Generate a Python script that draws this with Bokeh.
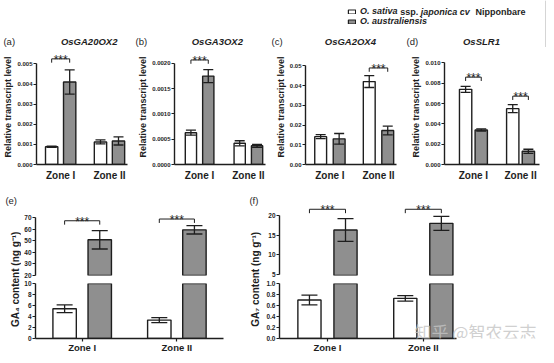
import numpy as np
from bokeh.plotting import figure
from bokeh.models import (Range1d, FixedTicker, PrintfTickFormatter, Whisker, TeeHead,
                          ColumnDataSource, Label, Legend, LegendItem)
from bokeh.layouts import column, row
from bokeh.embed import file_html
from bokeh.resources import INLINE
from bokeh.core.properties import value

FONT = "Liberation Sans"
INK = "#1e1e1e"
GREY = "#8f8f8f"
WHITE = "#ffffff"

# ---------------- data ----------------
zones = ["Zone I", "Zone II"]
genes = ["OsGA20OX2", "OsGA3OX2", "OsGA2OX4", "OsSLR1"]
panel_tags = ["(a)", "(b)", "(c)", "(d)", "(e)", "(f)"]
legend_row1 = [("O. sativa", "bold italic"), ("ssp.", "bold"),
               ("japonica cv", "bold italic"), ("Nipponbare", "bold")]
legend_row2 = [("O. australiensis", "bold italic")]
ylabel_top = "Relative transcript level"
ylabel_ga4 = "GA\u2084 content (ng g\u207b\u00b9)"
ylabel_ga7 = "GA\u2087 content (ng g\u207b\u00b9)"
watermark = "知乎 @智农云志"

ga20ox2_nip = [0.00088, 0.00112]
ga20ox2_nip_err = [0.00003, 0.00010]
ga20ox2_aus = [0.00410, 0.00117]
ga20ox2_aus_err = [0.00060, 0.00020]

ga3ox2_nip = [0.00063, 0.00042]
ga3ox2_nip_err = [0.00005, 0.00005]
ga3ox2_aus = [0.00175, 0.00037]
ga3ox2_aus_err = [0.00013, 0.00003]

ga2ox4_nip = [0.0141, 0.0420]
ga2ox4_nip_err = [0.0010, 0.0030]
ga2ox4_aus = [0.0130, 0.0172]
ga2ox4_aus_err = [0.0027, 0.0022]

slr1_nip = [0.0074, 0.0055]
slr1_nip_err = [0.0003, 0.0004]
slr1_aus = [0.0034, 0.0013]
slr1_aus_err = [0.0001, 0.0002]

ga4_nip = [5.4, 3.35]
ga4_nip_err = [0.7, 0.45]
ga4_aus = [51.0, 59.6]
ga4_aus_err = [8.0, 3.6]

ga7_nip = [0.70, 0.73]
ga7_nip_err = [0.09, 0.05]
ga7_aus = [16.4, 18.1]
ga7_aus_err = [2.9, 1.8]

ga20ox2_sig = ["***", ""]
ga3ox2_sig = ["***", ""]
ga2ox4_sig = ["", "***"]
slr1_sig = ["***", "***"]
ga4_sig = ["***", "***"]
ga7_sig = ["***", "***"]

ga20ox2_ticks = [0.000, 0.001, 0.002, 0.003, 0.004, 0.005]
ga3ox2_ticks = [0.0, 0.0005, 0.0010, 0.0015, 0.0020]
ga2ox4_ticks = [0.00, 0.01, 0.02, 0.03, 0.04, 0.05]
slr1_ticks = [0.000, 0.002, 0.004, 0.006, 0.008, 0.010]
ga4_ticks_low = [0, 2, 4, 6, 8, 10]
ga4_ticks_high = [20, 30, 40, 50, 60, 70]
ga7_ticks_low = [0.0, 0.2, 0.4, 0.6, 0.8, 1.0]
ga7_ticks_high = [5, 10, 15, 20]

# ---------------- layout (reference pixel geometry, scaled to fit) ----------------
REF_W, REF_H = 554, 363
OUT_W, OUT_H = 546, 355
SXF, SYF = OUT_W / REF_W, OUT_H / REF_H
SIG_FONT = "12px"


def sx(v):
    return int(round(v * SXF))


def sy(v):
    return int(round(v * SYF))


def base_fig(fig_lr, frame_lr, fig_tb, frame_tb, xr, yr, x_axis=True, y_axis=True):
    w = sx(fig_lr[1]) - sx(fig_lr[0])
    h = sy(fig_tb[1]) - sy(fig_tb[0])
    p = figure(width=w, height=h, x_range=Range1d(*xr), y_range=Range1d(*yr),
               output_backend="svg", toolbar_location=None,
               x_axis_location="below" if x_axis else None,
               y_axis_location="left" if y_axis else None,
               min_border_left=sx(frame_lr[0]) - sx(fig_lr[0]),
               min_border_right=sx(fig_lr[1]) - sx(frame_lr[1]),
               min_border_top=sy(frame_tb[0]) - sy(fig_tb[0]),
               min_border_bottom=sy(fig_tb[1]) - sy(frame_tb[1]))
    p.outline_line_color = None
    p.xgrid.visible = False
    p.ygrid.visible = False
    return p


def blank_fig(fig_lr, fig_tb):
    p = figure(width=sx(fig_lr[1]) - sx(fig_lr[0]), height=sy(fig_tb[1]) - sy(fig_tb[0]),
               x_range=Range1d(0, 1), y_range=Range1d(0, 1),
               output_backend="svg", toolbar_location=None,
               x_axis_location=None, y_axis_location=None, min_border=0)
    p.outline_line_color = None
    p.xgrid.visible = False
    p.ygrid.visible = False
    return p


def style_axis(ax, size, tick_out=3, standoff=2):
    ax.axis_line_color = INK
    ax.axis_line_width = 1.4
    ax.major_tick_line_color = INK
    ax.major_tick_line_width = 1.2
    ax.major_tick_in = 0
    ax.major_tick_out = tick_out
    ax.minor_tick_line_color = None
    ax.major_label_text_font = FONT
    ax.major_label_text_font_style = "bold"
    ax.major_label_text_font_size = size
    ax.major_label_text_color = INK
    ax.major_label_standoff = standoff


def zone_axis(p, size, tick_out, standoff, bounds=None):
    ax = p.xaxis[0]
    ax.ticker = FixedTicker(ticks=list(range(len(zones))))
    ax.major_label_overrides = {i: z for i, z in enumerate(zones)}
    if bounds is not None:
        ax.bounds = bounds
    style_axis(ax, size, tick_out, standoff)


def value_axis(p, ticks, fmt, size):
    ax = p.yaxis[0]
    ax.ticker = FixedTicker(ticks=ticks)
    ax.formatter = PrintfTickFormatter(format=fmt)
    ax.bounds = (ticks[0], ticks[-1])
    style_axis(ax, size, 3, 1)


def draw_bars(p, nip, nip_err, aus, aus_err, off, bw, head, lo=None, hi=None):
    x = np.arange(len(zones))
    xw, xg = x - off, x + off
    for xs, m, fill in ((xw, nip, WHITE), (xg, aus, GREY)):
        keep = [i for i, mi in enumerate(m) if lo is None or mi > lo]
        if keep:
            p.vbar(x=[xs[i] for i in keep], top=[m[i] for i in keep], width=bw, bottom=0,
                   fill_color=fill, line_color=INK, line_width=1.4)
    bx, up, dn = [], [], []
    for xs, m, e in ((xw, nip, nip_err), (xg, aus, aus_err)):
        for xi, mi, ei in zip(xs, m, e):
            if lo is not None and not (lo <= mi <= hi):
                continue
            bx.append(xi); up.append(mi + ei); dn.append(mi - ei)
    src = ColumnDataSource(dict(x=bx, upper=up, lower=dn))
    w = Whisker(source=src, base="x", upper="upper", lower="lower", level="annotation",
                line_color=INK, line_width=1.3,
                upper_head=TeeHead(size=head, line_color=INK, line_width=1.3),
                lower_head=TeeHead(size=head, line_color=INK, line_width=1.3))
    p.add_layout(w)


def draw_sig(p, sig, br_y, off, drop, size):
    xs, ys, tx, ty, tt = [], [], [], [], []
    for i, (s, y) in enumerate(zip(sig, br_y)):
        if not s:
            continue
        x0, x1 = i - off, i + off
        xs.append([x0, x0, x1, x1])
        ys.append([y - drop, y, y, y - drop])
        tx.append(float(i)); ty.append(y); tt.append(s)
    p.multi_line(xs=xs, ys=ys, line_color=INK, line_width=1)
    p.text(x=tx, y=ty, text=tt, text_align="center", text_baseline="alphabetic",
           y_offset=1, text_font=value(FONT), text_font_size=size, text_color=INK)


def add_label(p, text, x, y, size, style="normal", align="left", angle=0.0,
              font=FONT, color=INK, alpha=1.0):
    p.add_layout(Label(x=x, y=y, x_units="screen", y_units="screen", text=text,
                       text_font=font, text_font_size=size, text_font_style=style,
                       text_align=align, text_baseline="middle", angle=angle,
                       text_color=color, text_alpha=alpha))


def x_range_for(frame_lr, centers):
    unit = centers[1] - centers[0]
    return ((frame_lr[0] - centers[0]) / unit, (frame_lr[1] - centers[0]) / unit), unit


# ---------------- header: legend + panel titles ----------------
HEAD_TB = (0, 48)
head = blank_fig((0, REF_W), HEAD_TB)
HH = sy(HEAD_TB[1]) - sy(HEAD_TB[0])


def head_y(ref_y):
    return HH - ref_y * SYF


r_nip = head.vbar(x=[5], top=[1], width=0.1, fill_color=WHITE, line_color=INK, line_width=1.2)
r_aus = head.vbar(x=[5], top=[1], width=0.1, fill_color=GREY, line_color=INK, line_width=1.2)
LEG_FONT = "9px"
leg_rows_y = [11.5, 21.5]
for renderer, pieces, ry in ((r_nip, legend_row1, leg_rows_y[0]), (r_aus, legend_row2, leg_rows_y[1])):
    lg = Legend(items=[LegendItem(label=pieces[0][0], renderers=[renderer])],
                location=(sx(352), head_y(ry) - 5), glyph_width=9, glyph_height=5,
                label_standoff=4, label_height=5, padding=0, margin=0, spacing=0,
                border_line_color=None, background_fill_alpha=0,
                label_text_font=FONT, label_text_font_style=pieces[0][1],
                label_text_font_size=LEG_FONT, label_text_color=INK)
    head.add_layout(lg)
leg_piece_x = [365, 405.5, 426.5, 482]
for (txt, sty), lx in zip(legend_row1[1:], leg_piece_x[1:]):
    add_label(head, txt, lx * SXF, head_y(leg_rows_y[0]), LEG_FONT, sty)

tag_x = [3, 137, 275, 412]
title_cx = [90, 220, 355, 488]
for k in range(4):
    add_label(head, panel_tags[k], tag_x[k] * SXF, head_y(42), "9.5px")
    add_label(head, genes[k], title_cx[k] * SXF, head_y(42), "9.5px", "bold italic", "center")

# ---------------- row 1: transcript panels ----------------
row1_data = [
    (ga20ox2_nip, ga20ox2_nip_err, ga20ox2_aus, ga20ox2_aus_err, ga20ox2_sig, ga20ox2_ticks),
    (ga3ox2_nip, ga3ox2_nip_err, ga3ox2_aus, ga3ox2_aus_err, ga3ox2_sig, ga3ox2_ticks),
    (ga2ox4_nip, ga2ox4_nip_err, ga2ox4_aus, ga2ox4_aus_err, ga2ox4_sig, ga2ox4_ticks),
    (slr1_nip, slr1_nip_err, slr1_aus, slr1_aus_err, slr1_sig, slr1_ticks),
]
row1_layout = [
    dict(fig=(0, 137), frame=(33, 129), centers=(58.5, 110), off=9.5, bw=13,
         px0=170, pxt=65, br=[0.00525, None], fmt="%.3f"),
    dict(fig=(137, 276), frame=(172, 269), centers=(198.75, 250.75), off=9.25, bw=12,
         px0=169.7, pxt=64.3, br=[0.00207, None], fmt="%.4f"),
    dict(fig=(276, 414), frame=(306, 402), centers=(331.75, 383), off=9.75, bw=12.5,
         px0=170, pxt=67, br=[None, 0.0489], fmt="%.2f"),
    dict(fig=(414, REF_W), frame=(446.7, 547), centers=(477.25, 527), off=8.25, bw=13,
         px0=170, pxt=64, br=[0.0086, 0.00673], fmt="%.3f"),
]
ROW1_TB = (48, 187)
FRAME1_TB = (50, 170)
row1_figs = []
for (nip, nip_e, aus, aus_e, sig, ticks), L in zip(row1_data, row1_layout):
    xr, unit = x_range_for(L["frame"], L["centers"])
    per_px = (ticks[-1] - ticks[0]) / (L["px0"] - L["pxt"])
    y_end = (FRAME1_TB[1] - FRAME1_TB[0]) * per_px
    p = base_fig(L["fig"], L["frame"], ROW1_TB, FRAME1_TB, xr, (0, y_end))
    off, bw = L["off"] / unit, L["bw"] / unit
    draw_bars(p, nip, nip_e, aus, aus_e, off, bw, head=10)
    draw_sig(p, sig, L["br"], off, 4 * per_px, SIG_FONT)
    zone_axis(p, "10px", 0, 5)
    value_axis(p, ticks, L["fmt"], "6px")
    ax = p.yaxis[0]
    ax.axis_label = ylabel_top
    ax.axis_label_text_font = FONT
    ax.axis_label_text_font_style = "bold"
    ax.axis_label_text_font_size = "9px"
    ax.axis_label_text_color = INK
    ax.axis_label_standoff = 1
    row1_figs.append(p)

# ---------------- row 2: hormone contents with broken axes ----------------
row2_data = [
    (ga4_nip, ga4_nip_err, ga4_aus, ga4_aus_err, ga4_sig, ga4_ticks_low, ga4_ticks_high, ylabel_ga4),
    (ga7_nip, ga7_nip_err, ga7_aus, ga7_aus_err, ga7_sig, ga7_ticks_low, ga7_ticks_high, ylabel_ga7),
]
row2_layout = [
    dict(lab=(0, 21), tag_x=5, ylab_x=15.5, fig=(21, 250), frame=(34, 226.7), axis_end=226.7,
         centers=(81.85, 178.9), off=18, bw=24, hi_px=(281, 222), fmt_hi="%d", fmt_lo="%d",
         br=[67.5, 69.0], wm=False),
    dict(lab=(250, 266), tag_x=253, ylab_x=259, fig=(266, REF_W), frame=(283, 552), axis_end=463,
         centers=(331.7, 429), off=18.3, bw=23.5, hi_px=(280, 220), fmt_hi="%d", fmt_lo="%.1f",
         br=[21.7, 21.7], wm=True),
]
UP_TB, UP_FRAME = (187, 285), (195, 281)
LO_TB, LO_FRAME = (285, 363), (289, 348.5)
ROW2_TB = (187, 363)
row2_children = []
for k, ((nip, nip_e, aus, aus_e, sig, t_lo, t_hi, ylab), L) in enumerate(zip(row2_data, row2_layout)):
    lab = blank_fig(L["lab"], ROW2_TB)
    LH = sy(ROW2_TB[1]) - sy(ROW2_TB[0])
    add_label(lab, panel_tags[4 + k], (L["tag_x"] - L["lab"][0]) * SXF, LH - (204 - 187) * SYF, "9.5px")
    add_label(lab, ylab, (L["ylab_x"] - L["lab"][0]) * SXF, LH - (285 - 187) * SYF, "10px", "bold",
              "center", angle=np.pi / 2)

    xr, unit = x_range_for(L["frame"], L["centers"])
    off, bw = L["off"] / unit, L["bw"] / unit

    hp0, hp1 = L["hi_px"]
    per_px = (t_hi[-1] - t_hi[0]) / (hp0 - hp1)
    hi_start = t_hi[0] - (UP_FRAME[1] - hp0) * per_px
    hi_end = t_hi[0] + (hp0 - UP_FRAME[0]) * per_px
    up = base_fig(L["fig"], L["frame"], UP_TB, UP_FRAME, xr, (hi_start, hi_end), x_axis=False)
    draw_bars(up, nip, nip_e, aus, aus_e, off, bw, head=16, lo=hi_start, hi=hi_end)
    draw_sig(up, sig, L["br"], off, 4 * per_px, SIG_FONT)
    value_axis(up, t_hi, L["fmt_hi"], "6.5px")

    lo = base_fig(L["fig"], L["frame"], LO_TB, LO_FRAME, xr, (t_lo[0], t_lo[-1]))
    draw_bars(lo, nip, nip_e, aus, aus_e, off, bw, head=16, lo=t_lo[0], hi=t_lo[-1])
    x_end_val = (L["axis_end"] - L["centers"][0]) / unit
    zone_axis(lo, "9.5px", 3, 0, bounds=(xr[0], x_end_val))
    value_axis(lo, t_lo, L["fmt_lo"], "6.5px")
    if L["wm"]:
        add_label(lo, watermark, (420 - L["frame"][0]) * SXF, (348.5 - 341) * SYF, "17px",
                  font="Noto Sans CJK SC", color="#c4c4c4", alpha=0.8)
    row2_children += [lab, column(up, lo, spacing=0)]

layout = column(head, row(*row1_figs, spacing=0), row(*row2_children, spacing=0), spacing=0)

open("out.html", "w").write(file_html(layout, INLINE))
